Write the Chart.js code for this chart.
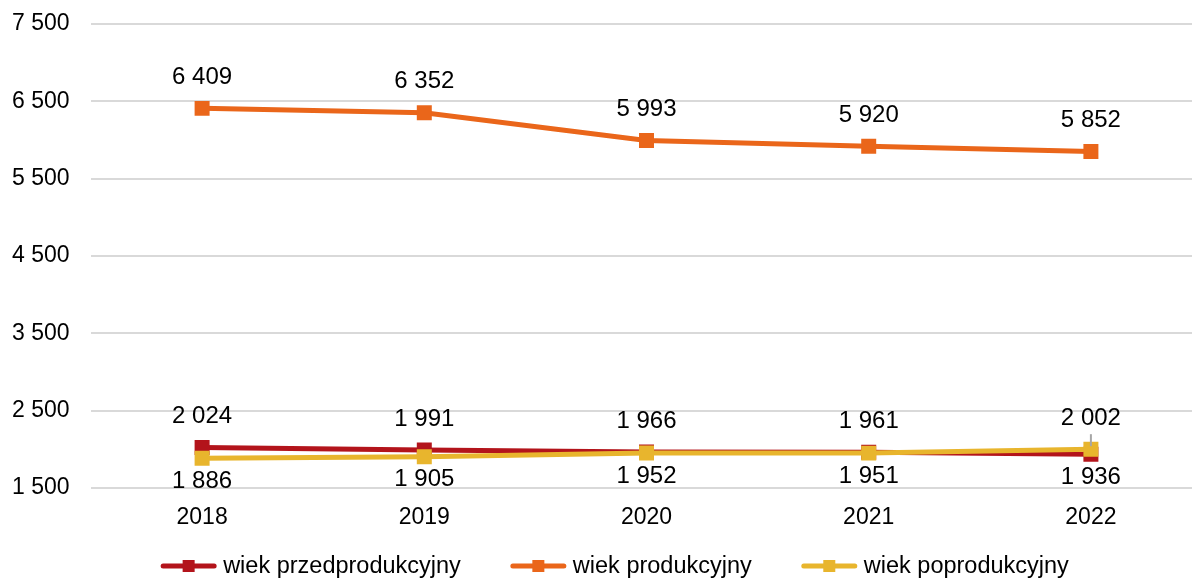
<!DOCTYPE html>
<html>
<head>
<meta charset="utf-8">
<style>
  html, body { margin: 0; padding: 0; overflow: hidden; background: #fff; }
  #c { display: block; }
</style>
<script src="https://cdn.jsdelivr.net/npm/chart.js@4/dist/chart.umd.min.js"></script>
</head>
<body>
<canvas id="c" width="1192" height="579"></canvas>
<script>
// Ludność według ekonomicznych grup wieku
const years = ['2018', '2019', '2020', '2021', '2022'];
const przedprodukcyjny = [2024, 1991, 1966, 1961, 1936];
const produkcyjny = [6409, 6352, 5993, 5920, 5852];
const poprodukcyjny = [1886, 1905, 1952, 1951, 2002];
const yTicks = [1500, 2500, 3500, 4500, 5500, 6500, 7500];
const seriesNames = ['wiek przedprodukcyjny', 'wiek produkcyjny', 'wiek poprodukcyjny'];

const FONT = '"Liberation Sans", Arial, sans-serif';
const FONT_SIZE = 23;
const COLORS = ['#B3141B', '#EA661A', '#E8B52D'];

const fmt = v => String(v).replace(/\B(?=(\d{3})+(?!\d))/g, ' ');

// The plot area runs a little past the right edge of the canvas
const extendPlot = {
  id: 'extendPlot',
  afterLayout(chart) {
    const x = chart.scales.x;
    const extra = chart.width + 10 - chart.chartArea.right;
    x.right += extra;
    x.width += extra;
    chart.chartArea.right += extra;
    chart.chartArea.width += extra;
    x.configure();
  }
};

// Value labels: the two close series put the larger value above, the smaller below
const valueLabels = {
  id: 'valueLabels',
  afterDatasetsDraw(chart) {
    const ctx = chart.ctx;
    const close = [0, 2];
    ctx.save();
    ctx.font = '24px ' + FONT;
    ctx.fillStyle = '#000';
    ctx.textAlign = 'center';
    ctx.textBaseline = 'middle';
    chart.data.datasets.forEach((ds, di) => {
      const meta = chart.getDatasetMeta(di);
      const isAbove = i => {
        if (!close.includes(di)) return true;
        const other = chart.data.datasets[close.find(k => k !== di)].data[i];
        return ds.data[i] >= other;
      };
      meta.data.forEach((pt, i) => {
        const above = isAbove(i);
        const y = above ? pt.y - 31 : pt.y + 23;
        ctx.fillText(fmt(ds.data[i]), pt.x, y);
        if (above && !isAbove(0)) {
          // short leader for a label that moved to the other side
          ctx.strokeStyle = '#A6A6A6';
          ctx.lineWidth = 2;
          ctx.beginPath();
          ctx.moveTo(pt.x, pt.y - 15);
          ctx.lineTo(pt.x, pt.y - 3);
          ctx.stroke();
        }
      });
    });
    ctx.restore();
  }
};

// Legend row: line-with-square keys under the axis
const legendRow = {
  id: 'legendRow',
  afterDraw(chart) {
    const ctx = chart.ctx;
    ctx.save();
    ctx.font = '23.5px ' + FONT;
    const key = 55, gap = 7, between = 50, centerX = 615, y = 566;
    const items = chart.data.datasets.map(ds => ({
      label: ds.label, color: ds.borderColor, w: ctx.measureText(ds.label).width
    }));
    const total = items.reduce((s, it) => s + key + gap + it.w, 0) + between * (items.length - 1);
    let x = centerX - total / 2;
    items.forEach(it => {
      ctx.strokeStyle = it.color;
      ctx.lineWidth = 5;
      ctx.lineCap = 'round';
      ctx.beginPath();
      ctx.moveTo(x + 2, y);
      ctx.lineTo(x + key - 2, y);
      ctx.stroke();
      ctx.fillStyle = it.color;
      ctx.fillRect(x + key / 2 - 6, y - 6, 12, 12);
      ctx.fillStyle = '#000';
      ctx.textAlign = 'left';
      ctx.textBaseline = 'middle';
      ctx.fillText(it.label, x + key + gap, y + 1);
      x += key + gap + it.w + between;
    });
    ctx.restore();
  }
};

const series = [przedprodukcyjny, produkcyjny, poprodukcyjny];

new Chart(document.getElementById('c'), {
  type: 'line',
  data: {
    labels: years,
    datasets: series.map((data, i) => ({
      label: seriesNames[i],
      data: data,
      borderColor: COLORS[i],
      backgroundColor: COLORS[i],
      borderWidth: 5,
      pointStyle: 'rect',
      pointRadius: 10.6,
      pointBorderWidth: 0,
      pointHoverRadius: 10.6,
      tension: 0,
      fill: false,
      order: [2, 1, 0][i]
    }))
  },
  options: {
    responsive: false,
    animation: false,
    events: [],
    layout: { padding: { top: 24, right: 0, bottom: 51, left: 12 } },
    plugins: {
      legend: { display: false },
      tooltip: { enabled: false }
    },
    scales: {
      x: {
        type: 'category',
        offset: true,
        grid: { display: false, drawTicks: false },
        border: { display: false },
        ticks: {
          color: '#000',
          padding: 16,
          font: { family: FONT, size: FONT_SIZE }
        },
        afterFit(scale) { scale.height = 40; }
      },
      y: {
        min: yTicks[0],
        max: yTicks[yTicks.length - 1],
        afterBuildTicks(scale) { scale.ticks = yTicks.map(v => ({ value: v })); },
        grid: { color: '#D9D9D9', lineWidth: 2, drawTicks: false },
        border: { display: false },
        ticks: {
          color: '#000',
          padding: 0,
          crossAlign: 'far',
          font: { family: FONT, size: FONT_SIZE },
          callback: v => fmt(v)
        },
        afterFit(scale) { scale.width = 79; }
      }
    }
  },
  plugins: [extendPlot, valueLabels, legendRow]
});
</script>
</body>
</html>
